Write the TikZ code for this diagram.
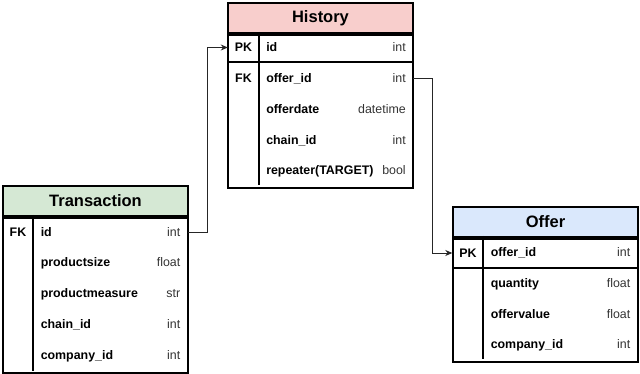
\documentclass[tikz,border=0pt]{standalone}
\usepackage{fontspec}
\setmainfont{Liberation Sans}
\usepackage{xcolor}
\usepackage{tikz}
\usetikzlibrary{arrows.meta}
\definecolor{histpink}{HTML}{F8CECC}
\definecolor{transgreen}{HTML}{D5E8D4}
\definecolor{offerblue}{HTML}{DAE8FC}
\definecolor{typegray}{HTML}{333333}

\begin{document}
\begin{tikzpicture}[x=1pt, y=-1pt,
  thead/.style={draw, line width=1.8pt, minimum width=185pt, minimum height=30pt, inner sep=0pt, anchor=north, font=\fontsize{16.5}{18}\selectfont\bfseries},
  tbody/.style={draw, line width=1.8pt, minimum width=185pt, inner sep=0pt, anchor=north},
  keycell/.style={minimum width=31pt, minimum height=30pt, inner sep=0pt, font=\fontsize{12.4}{14}\selectfont\bfseries},
  field/.style={minimum width=154pt, minimum height=30pt, inner sep=0pt, font=\fontsize{12.4}{14}\selectfont},
  sep/.style={line width=1.8pt},
  link/.style={draw=black!85, line width=0.8pt, -{Stealth[length=7pt,width=6pt]}}
]
\useasboundingbox (0,0) rectangle (640,374);

% History table
\node[thead, fill=histpink] (hist) at (320.5,2) {History};
\node[tbody, minimum height=153pt] (histbody) at (hist.south) {};
\draw[sep] (228,62) -- (413,62);
\draw[sep] (259,32) -- (259,185);
\node[keycell] (hpk) at (243.5,47.5) {PK};
\node[keycell] (hfk) at (243.5,78.5) {FK};
\node[field] (hid) at (336,47.5) {\makebox[139.5pt]{\textbf{id}\hfill\color{typegray}int}};
\node[field] (hoffer) at (336,78.5) {\makebox[139.5pt]{\textbf{offer\_id}\hfill\color{typegray}int}};
\node[field] (hdate) at (336,109.5) {\makebox[139.5pt]{\textbf{offerdate}\hfill\color{typegray}datetime}};
\node[field] (hchain) at (336,140.5) {\makebox[139.5pt]{\textbf{chain\_id}\hfill\color{typegray}int}};
\node[field] (hrep) at (336,171.5) {\makebox[139.5pt]{\textbf{repeater(TARGET)}\hfill\color{typegray}bool}};

% Transaction table
\node[thead, fill=transgreen] (trans) at (95.5,185) {Transaction};
\node[tbody, minimum height=155pt] (transbody) at (trans.south) {};
\draw[sep] (33,215) -- (33,371);
\node[keycell] (tfk) at (18,232) {FK};
\node[field] (tid) at (110.5,232) {\makebox[139.5pt]{\textbf{id}\hfill\color{typegray}int}};
\node[field] (tsize) at (110.5,263) {\makebox[139.5pt]{\textbf{productsize}\hfill\color{typegray}float}};
\node[field] (tmeas) at (110.5,294) {\makebox[139.5pt]{\textbf{productmeasure}\hfill\color{typegray}str}};
\node[field] (tchain) at (110.5,325) {\makebox[139.5pt]{\textbf{chain\_id}\hfill\color{typegray}int}};
\node[field] (tcomp) at (110.5,356) {\makebox[139.5pt]{\textbf{company\_id}\hfill\color{typegray}int}};

% Offer table
\node[thead, fill=offerblue] (offer) at (545.5,206) {Offer};
\node[tbody, minimum height=123pt] (offerbody) at (offer.south) {};
\draw[sep] (453,268) -- (638,268);
\draw[sep] (483,236) -- (483,359);
\node[keycell] (opk) at (468,253) {PK};
\node[field] (oid) at (560.5,253) {\makebox[139.5pt]{\textbf{offer\_id}\hfill\color{typegray}int}};
\node[field] (oqty) at (560.5,284) {\makebox[139.5pt]{\textbf{quantity}\hfill\color{typegray}float}};
\node[field] (oval) at (560.5,314.5) {\makebox[139.5pt]{\textbf{offervalue}\hfill\color{typegray}float}};
\node[field] (ocomp) at (560.5,345) {\makebox[139.5pt]{\textbf{company\_id}\hfill\color{typegray}int}};

% links
\draw[link] (tid.east) -- ++(20,0) |- (hpk.west);
\draw[link] (hoffer.east) -- ++(19,0) |- (opk.west);
\end{tikzpicture}
\end{document}
